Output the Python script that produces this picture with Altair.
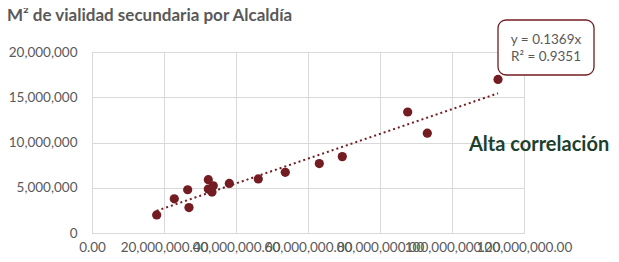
import altair as alt
import pandas as pd

# Data (m2 area vs m2 of secondary roads)
area = [17.97e6, 22.86e6, 26.58e6, 26.94e6, 32.31e6, 32.31e6, 33.69e6, 33.33e6,
        38.14e6, 46.19e6, 53.69e6, 63.14e6, 69.53e6, 87.69e6, 93.14e6, 112.78e6]
vialidad = [2.00e6, 3.78e6, 4.78e6, 2.81e6, 5.89e6, 4.86e6, 5.22e6, 4.52e6,
            5.48e6, 5.97e6, 6.70e6, 7.67e6, 8.44e6, 13.37e6, 11.03e6, 16.97e6]
slope = 0.1369
x_ticks = [0, 20e6, 40e6, 60e6, 80e6, 100e6, 120e6]
y_ticks = [0, 5e6, 10e6, 15e6, 20e6]
title_text = "M² de vialidad secundaria por Alcaldía"
eq_line1 = "y = 0.1369x"
eq_line2 = "R² = 0.9351"
note_text = "Alta correlación"

FONT = "Lato"
MAROON = "#731c22"
GRAY = "#595959"

df = pd.DataFrame({"x": area, "y": vialidad})
xmin, xmax = min(area), max(area)
trend = pd.DataFrame({"x": [xmin, xmax], "y": [slope * xmin, slope * xmax]})

xscale = alt.Scale(domain=[0, 120e6], nice=False, zero=True)
yscale = alt.Scale(domain=[0, 20e6], nice=False)

xaxis = alt.Axis(values=x_ticks, format=",.2f", title=None, grid=True,
                 gridColor="#d9d9d9", ticks=False, domain=True, domainColor="#d9d9d9",
                 labelFont=FONT, labelFontSize=13.5, labelColor=GRAY, labelPadding=7,
                 labelOverlap=False, labelFlush=False)
yaxis = alt.Axis(values=y_ticks, format=",.0f", title=None, grid=True,
                 gridColor="#d9d9d9", ticks=False, domain=False,
                 labelFont=FONT, labelFontSize=13.5, labelColor=GRAY, labelPadding=15)

points = alt.Chart(df).mark_circle(size=85, color=MAROON, opacity=1).encode(
    x=alt.X("x:Q", scale=xscale, axis=xaxis),
    y=alt.Y("y:Q", scale=yscale, axis=yaxis),
)

line = alt.Chart(trend).mark_line(color=MAROON, strokeDash=[2, 3], strokeWidth=2).encode(
    x=alt.X("x:Q", scale=xscale, axis=xaxis),
    y=alt.Y("y:Q", scale=yscale, axis=yaxis),
)

def label(text, x, y, **kw):
    return alt.Chart(pd.DataFrame({"t": [text]})).mark_text(**kw).encode(
        text="t:N", x=alt.value(x), y=alt.value(y))

title = label(title_text, -85, -31, font=FONT, fontSize=17, fontWeight="bold",
              color=GRAY, align="left", baseline="alphabetic")

box = alt.Chart(pd.DataFrame({"a": [1]})).mark_rect(
    fill="white", stroke=MAROON, strokeWidth=1.3, cornerRadius=8
).encode(x=alt.value(406), x2=alt.value(502), y=alt.value(-32), y2=alt.value(23))

eq1 = label(eq_line1, 454, -12, font=FONT, fontSize=13.5, color=GRAY,
            align="center", baseline="middle")
eq2 = label(eq_line2, 454, 5, font=FONT, fontSize=13.5, color=GRAY,
            align="center", baseline="middle")

note = label(note_text, 377, 93, font=FONT, fontSize=20, fontWeight="bold",
             color="#1d3f2e", align="left", baseline="middle")

chart = alt.layer(line, points, box, eq1, eq2, title, note).properties(
    width=432, height=181,
    autosize=alt.AutoSizeParams(type="none"),
    padding={"left": 84, "top": 44, "right": 87, "bottom": 21},
).configure_view(stroke=None).configure(background="white")

chart.save("out.html", embed_options={"renderer": "svg", "actions": False})
